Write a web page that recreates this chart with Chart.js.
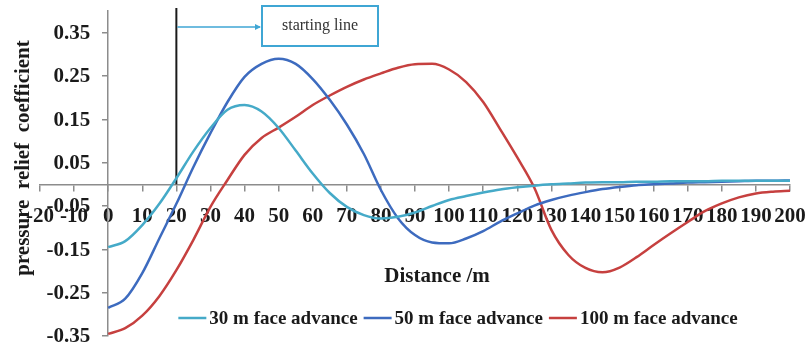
<!DOCTYPE html>
<html>
<head>
<meta charset="utf-8">
<title>pressure relief coefficient</title>
<script src="https://cdn.jsdelivr.net/npm/chart.js@4.4.1/dist/chart.umd.min.js"></script>
<style>
  html, body { margin: 0; padding: 0; background: #fff; }
  #wrap { position: relative; width: 807px; height: 350px; }
</style>
</head>
<body>
<div id="wrap"><canvas id="myChart"></canvas></div>
<script>
(() => {
  'use strict'

  // distance from the face (m)
  const distance = [0, 5, 10, 15, 20, 25, 30, 35, 40, 45, 50, 55, 60, 65, 70, 75, 80, 85, 90, 95,
    100, 105, 110, 115, 120, 125, 130, 135, 140, 145, 150, 155, 160, 165, 170, 175, 180, 185, 190, 195, 200]

  const advance30 = [-0.145, -0.131, -0.094, -0.045, 0.014, 0.076, 0.130, 0.172, 0.183, 0.168,
    0.130, 0.078, 0.025, -0.020, -0.052, -0.071, -0.079, -0.075, -0.065, -0.050,
    -0.036, -0.027, -0.019, -0.012, -0.007, -0.003, 0.000, 0.002, 0.004, 0.005,
    0.005, 0.006, 0.006, 0.007, 0.007, 0.007, 0.008, 0.008, 0.008, 0.008, 0.008]

  const advance50 = [-0.285, -0.264, -0.205, -0.125, -0.045, 0.040, 0.118, 0.190, 0.248, 0.278,
    0.290, 0.278, 0.243, 0.195, 0.138, 0.070, -0.013, -0.078, -0.117, -0.134,
    -0.136, -0.125, -0.108, -0.086, -0.067, -0.049, -0.036, -0.026, -0.018, -0.011,
    -0.006, -0.002, 0.000, 0.002, 0.004, 0.005, 0.006, 0.007, 0.008, 0.008, 0.009]

  const advance100 = [-0.345, -0.332, -0.303, -0.258, -0.198, -0.128, -0.052, 0.010, 0.068, 0.107,
    0.131, 0.156, 0.183, 0.205, 0.225, 0.242, 0.256, 0.269, 0.277, 0.278,
    0.265, 0.236, 0.190, 0.127, 0.062, -0.008, -0.105, -0.163, -0.193, -0.203,
    -0.192, -0.168, -0.140, -0.113, -0.087, -0.062, -0.044, -0.030, -0.021, -0.017, -0.015]

  const seriesNames = ['30 m face advance', '50 m face advance', '100 m face advance']
  const seriesColors = ['#45aac8', '#3d6bbf', '#c6403f']

  const xTicks = [-20, -10, 0, 10, 20, 30, 40, 50, 60, 70, 80, 90, 100, 110, 120, 130, 140, 150,
    160, 170, 180, 190, 200]
  const yTicks = [-0.35, -0.25, -0.15, -0.05, 0.05, 0.15, 0.25, 0.35]

  const startingLine = 20

  const serif = "'Times New Roman', 'Liberation Serif', serif"
  const axisGray = '#8c8c8c'
  const ink = '#1a1a1a'

  const points = (ys) => distance.map((d, i) => ({ x: d, y: ys[i] }))
  const yLabel = (v) => v.toFixed(2)

  // axes sit inside the plot, so their label padding must not shrink it
  const noPadding = (axis) => {
    axis.paddingLeft = 0
    axis.paddingRight = 0
    axis.paddingTop = 0
    axis.paddingBottom = 0
  }

  // starting line, callout box, y labels, axis titles and legend
  const decorations = {
    id: 'decorations',
    beforeDatasetsDraw(chart) {
      const { ctx, scales: { x, y }, chartArea } = chart
      const sx = x.getPixelForValue(startingLine)
      ctx.save()
      ctx.strokeStyle = ink
      ctx.lineWidth = 2
      ctx.beginPath()
      ctx.moveTo(sx, chartArea.top - 3)
      ctx.lineTo(sx, y.getPixelForValue(0))
      ctx.stroke()
      ctx.restore()
    },
    afterDraw(chart) {
      const { ctx, scales: { x, y } } = chart
      ctx.save()

      // y tick labels, left of the axis drawn at x = 0
      const ax = x.getPixelForValue(0)
      ctx.fillStyle = ink
      ctx.font = 'bold 21px ' + serif
      ctx.textAlign = 'right'
      ctx.textBaseline = 'middle'
      yTicks.forEach(v => ctx.fillText(yLabel(v), ax - 18, y.getPixelForValue(v) + 1))

      // callout
      const sx = x.getPixelForValue(startingLine)
      const boxL = 262, boxR = 378, boxT = 6, boxB = 46
      const ay = 27
      ctx.strokeStyle = '#3fa6d4'
      ctx.lineWidth = 1.5
      ctx.beginPath()
      ctx.moveTo(sx + 1, ay)
      ctx.lineTo(boxL - 2, ay)
      ctx.stroke()
      ctx.fillStyle = '#3fa6d4'
      ctx.beginPath()
      ctx.moveTo(boxL - 1, ay)
      ctx.lineTo(boxL - 7, ay - 3)
      ctx.lineTo(boxL - 7, ay + 3)
      ctx.closePath()
      ctx.fill()
      ctx.lineWidth = 2
      ctx.strokeRect(boxL, boxT, boxR - boxL, boxB - boxT)
      ctx.fillStyle = '#333'
      ctx.font = '16px ' + serif
      ctx.textAlign = 'center'
      ctx.fillText('starting line', (boxL + boxR) / 2, (boxT + boxB) / 2)

      // axis titles
      ctx.fillStyle = ink
      ctx.font = 'bold 21px ' + serif
      ctx.fillText('Distance /m', 437, 277)
      ctx.save()
      ctx.translate(24, 158)
      ctx.rotate(-Math.PI / 2)
      ctx.fillText('pressure  relief  coefficient', 0, 0)
      ctx.restore()

      // legend
      ctx.font = 'bold 19px ' + serif
      const lineLen = 28, gapLine = 3, gapItem = 6
      const items = chart.data.datasets.map(ds => ({
        label: ds.label, color: ds.borderColor, w: ctx.measureText(ds.label).width
      }))
      const total = items.reduce((s, it) => s + lineLen + gapLine + it.w, 0) + gapItem * (items.length - 1)
      let lx = 458 - total / 2
      const ly = 318
      ctx.textAlign = 'left'
      items.forEach(it => {
        ctx.strokeStyle = it.color
        ctx.lineWidth = 2.5
        ctx.beginPath()
        ctx.moveTo(lx, ly)
        ctx.lineTo(lx + lineLen, ly)
        ctx.stroke()
        lx += lineLen + gapLine
        ctx.fillStyle = ink
        ctx.fillText(it.label, lx, ly + 1)
        lx += it.w + gapItem
      })
      ctx.restore()
    }
  }

  const ctx = document.getElementById('myChart')

  const myChart = new Chart(ctx, {
    type: 'line',
    data: {
      datasets: [
        { label: seriesNames[0], data: points(advance30), borderColor: seriesColors[0] },
        { label: seriesNames[1], data: points(advance50), borderColor: seriesColors[1] },
        { label: seriesNames[2], data: points(advance100), borderColor: seriesColors[2] }
      ].map(ds => Object.assign(ds, {
        backgroundColor: 'transparent',
        borderWidth: 2.5,
        pointRadius: 0,
        cubicInterpolationMode: 'monotone'
      }))
    },
    options: {
      responsive: true,
      maintainAspectRatio: false,
      animation: false,
      layout: {
        padding: { left: 40, right: 17, top: 11, bottom: 14 }
      },
      scales: {
        x: {
          type: 'linear',
          min: -20,
          max: 200,
          position: { y: 0 },
          afterBuildTicks: (axis) => { axis.ticks = xTicks.map(v => ({ value: v })) },
          afterFit: noPadding,
          border: { color: axisGray, width: 1.5 },
          grid: { drawOnChartArea: false, drawTicks: true, tickLength: 6, color: axisGray, lineWidth: 1.5 },
          ticks: {
            autoSkip: false,
            maxRotation: 0,
            padding: 16,
            color: ink,
            font: { family: serif, size: 21, weight: 'bold', lineHeight: 1 }
          }
        },
        y: {
          type: 'linear',
          min: -0.35,
          max: 0.4,
          position: { x: 0 },
          afterBuildTicks: (axis) => { axis.ticks = yTicks.map(v => ({ value: v })) },
          afterFit: noPadding,
          border: { color: axisGray, width: 1.5 },
          grid: { drawOnChartArea: false, drawTicks: true, tickLength: 5, color: axisGray, lineWidth: 1.5 },
          ticks: { display: false }
        }
      },
      plugins: {
        legend: { display: false },
        tooltip: { enabled: false }
      }
    },
    plugins: [decorations]
  })
})()
</script>
</body>
</html>
